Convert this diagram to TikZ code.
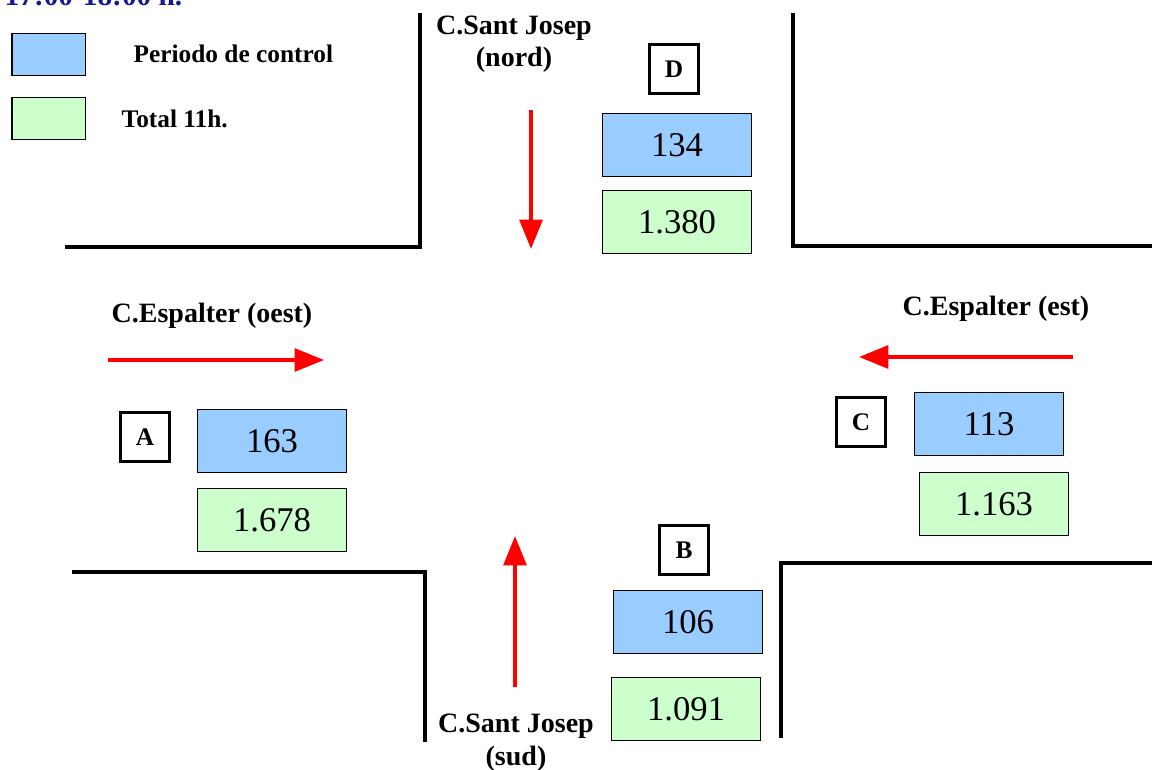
\documentclass[tikz,border=0pt]{standalone}
\usepackage{fontspec}
\setmainfont{Liberation Serif}
\usetikzlibrary{arrows.meta}

\definecolor{ctrlblue}{RGB}{153,204,255}
\definecolor{totgreen}{RGB}{204,255,204}
\definecolor{hourblue}{RGB}{24,24,150}

\begin{document}
\begin{tikzpicture}[x=0.75pt,y=-0.75pt,>={Triangle[length=22pt,width=17pt]},
    road/.style={line width=3pt},
    flow/.style={->,red,line width=3pt},
    ctrl/.style={draw,fill=ctrlblue,line width=1pt,minimum width=111.5pt,minimum height=47.5pt,inner sep=0pt,font=\fontsize{26}{30}\selectfont},
    total/.style={ctrl,fill=totgreen},
    point/.style={draw,fill=white,line width=2.2pt,minimum size=37pt,inner sep=0pt,font=\bfseries\fontsize{19}{23}\selectfont},
    street/.style={anchor=base,font=\bfseries\fontsize{21}{25}\selectfont},
    legend/.style={anchor=base west,font=\bfseries\fontsize{19}{23}\selectfont}]
    \useasboundingbox (0,0) rectangle (1152,770);
    \clip (0,0) rectangle (1152,770);

    % legend
    \node[anchor=base west,text=hourblue,font=\bfseries\fontsize{22}{26}\selectfont] (hour) at (0,6) {17:00-18:00 h.};
    \node[draw,fill=ctrlblue,line width=1pt,minimum width=55pt,minimum height=31.5pt] (keyA) at (48.5,54.5) {};
    \node[draw,fill=totgreen,line width=1pt,minimum width=55pt,minimum height=31.5pt] (keyB) at (48.5,118.5) {};
    \node[legend] (keyAtxt) at (129,63) {Periodo de control};
    \node[legend] (keyBtxt) at (117,128) {Total 11h.};

    % street corners
    \draw[road] (65,247) -- (420,247) -- (420,13);
    \draw[road] (793,13) -- (793,246) -- (1152,246);
    \draw[road] (72,572) -- (425,572) -- (425,742);
    \draw[road] (781,738) -- (781,563) -- (1152,563);

    % street names
    \node[street] (nord1) at (514,35) {C.Sant Josep};
    \node[street] (nord2) at (514,67) {(nord)};
    \node[street] (oest) at (212,322) {C.Espalter (oest)};
    \node[street] (est) at (996,315) {C.Espalter (est)};
    \node[street] (sud1) at (516,732) {C.Sant Josep};
    \node[street] (sud2) at (516,765) {(sud)};

    % traffic directions
    \coordinate (nordS) at (531,110);
    \coordinate (nordE) at (531,249);
    \coordinate (oestS) at (108,360);
    \coordinate (oestE) at (324,360);
    \coordinate (estS) at (1073,357);
    \coordinate (estE) at (859,357);
    \coordinate (sudS) at (515,687);
    \coordinate (sudE) at (515,536);
    \draw[flow] (nordS) -- (nordE);
    \draw[flow] (oestS) -- (oestE);
    \draw[flow] (estS) -- (estE);
    \draw[flow] (sudS) -- (sudE);

    % counting points
    \node[point] (D) at (674,69) {D};
    \node[ctrl]  (Dctrl) at (677,145) {134};
    \node[total] (Dtot) at (677,222) {1.380};

    \node[point] (A) at (145,437) {A};
    \node[ctrl]  (Actrl) at (272,441) {163};
    \node[total] (Atot) at (272,520) {1.678};

    \node[point] (B) at (684,550) {B};
    \node[ctrl]  (Bctrl) at (688,622) {106};
    \node[total] (Btot) at (686,709) {1.091};

    \node[point] (C) at (861,422) {C};
    \node[ctrl]  (Cctrl) at (989,424) {113};
    \node[total] (Ctot) at (994,504) {1.163};
\end{tikzpicture}
\end{document}
